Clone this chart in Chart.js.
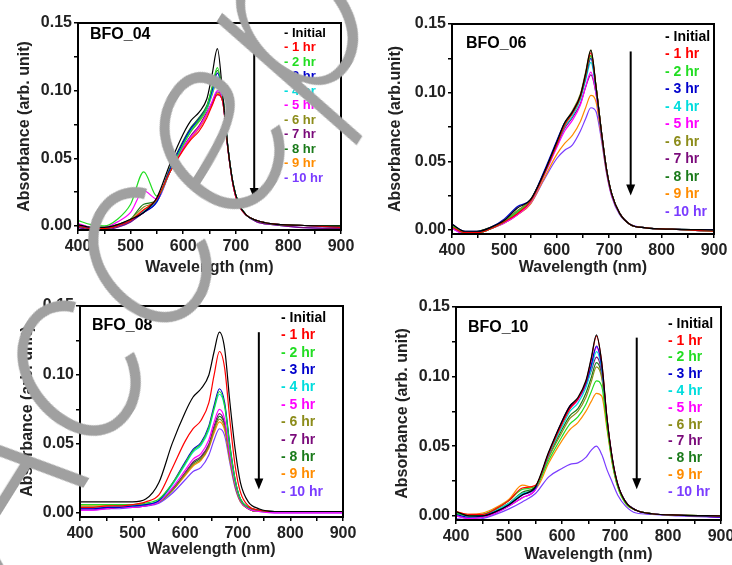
<!DOCTYPE html>
<html><head><meta charset="utf-8">
<script src="https://cdn.jsdelivr.net/npm/chart.js@4/dist/chart.umd.min.js"></script>
<style>
html,body{margin:0;padding:0;background:#fff;}
#wrap{position:relative;width:732px;height:565px;overflow:hidden;background:#fff;}
.pane{position:absolute;width:366px;height:282px;}
.pane canvas{display:block;}
#wm{position:absolute;left:-165px;top:487px;font-family:Inter,"Open Sans",sans-serif;font-weight:250;font-style:italic;font-size:245px;line-height:1;color:#a0a0a0;transform-origin:0 0;transform:rotate(-58deg);white-space:nowrap;pointer-events:none;}
</style></head><body>
<div id="wrap">
 <div class="pane" style="left:0;top:0"><canvas id="c1" width="366" height="282"></canvas></div>
 <div class="pane" style="left:366px;top:0"><canvas id="c2" width="366" height="282"></canvas></div>
 <div class="pane" style="left:0;top:282px"><canvas id="c3" width="366" height="282"></canvas></div>
 <div class="pane" style="left:366px;top:282px"><canvas id="c4" width="366" height="282"></canvas></div>
 <div id="wm">Accepted</div>
</div>
<script>
// ---- data ----
const wavelengths = [400, 425, 450, 475, 500, 525, 550, 575, 600, 615, 630, 645, 655, 665, 675, 685, 695, 705, 720, 740, 770, 820, 900];
const seriesLabels = ['- Initial', '- 1 hr', '- 2 hr', '- 3 hr', '- 4 hr', '- 5 hr', '- 6 hr', '- 7 hr', '- 8 hr', '- 9 hr', '- 10 hr'];
const seriesColors = ['#000000', '#ff0000', '#22dd22', '#0000cc', '#00dddd', '#ff00ff', '#8c8c1a', '#7a0a7a', '#1a7a1a', '#ff8c00', '#7a3cff'];
const xTickValues = [400, 450, 500, 550, 600, 650, 700, 750, 800, 850, 900];
const yTickValues = [0, 0.025, 0.05, 0.075, 0.1, 0.125, 0.15];

// BFO_04
const bfo04_initial = [0.001, -0.001, -0.001, 0.001, 0.005, 0.010, 0.021, 0.046, 0.068, 0.078, 0.084, 0.094, 0.112, 0.131, 0.098, 0.058, 0.031, 0.017, 0.008, 0.004, 0.0015, 0.0005, 0.000];
const bfo04_1hr = [0.000, -0.002, -0.002, 0.000, 0.004, 0.012, 0.020, 0.040, 0.056, 0.064, 0.070, 0.080, 0.089, 0.097, 0.092, 0.057, 0.030, 0.016, 0.008, 0.004, 0.0015, 0.0005, -0.001];
const bfo04_2hr = [0.004, 0.001, 0.000, 0.005, 0.016, 0.040, 0.022, 0.040, 0.060, 0.070, 0.078, 0.088, 0.103, 0.117, 0.097, 0.058, 0.031, 0.017, 0.008, 0.004, 0.0015, 0.0005, 0.000];
const bfo04_3hr = [0.000, -0.002, -0.002, 0.000, 0.004, 0.010, 0.018, 0.042, 0.062, 0.072, 0.079, 0.088, 0.100, 0.113, 0.096, 0.058, 0.031, 0.017, 0.008, 0.004, 0.0015, 0.0005, -0.001];
const bfo04_4hr = [0.000, -0.002, -0.002, 0.000, 0.004, 0.011, 0.018, 0.041, 0.061, 0.071, 0.078, 0.087, 0.098, 0.110, 0.095, 0.058, 0.031, 0.017, 0.008, 0.004, 0.0015, 0.0005, -0.001];
const bfo04_5hr = [0.002, -0.001, -0.001, 0.003, 0.010, 0.026, 0.020, 0.040, 0.058, 0.066, 0.073, 0.083, 0.092, 0.100, 0.093, 0.057, 0.030, 0.016, 0.008, 0.004, 0.0015, 0.0005, -0.001];
const bfo04_6hr = [0.000, -0.002, -0.002, 0.001, 0.005, 0.014, 0.019, 0.041, 0.060, 0.070, 0.077, 0.086, 0.097, 0.107, 0.095, 0.058, 0.031, 0.017, 0.008, 0.004, 0.0015, 0.0005, -0.001];
const bfo04_7hr = [-0.001, -0.003, -0.003, -0.001, 0.003, 0.010, 0.018, 0.040, 0.058, 0.067, 0.074, 0.084, 0.091, 0.099, 0.093, 0.057, 0.030, 0.016, 0.008, 0.003, 0.001, -0.001, -0.002];
const bfo04_8hr = [0.001, -0.001, -0.001, 0.001, 0.005, 0.016, 0.019, 0.043, 0.063, 0.073, 0.080, 0.089, 0.102, 0.115, 0.097, 0.058, 0.031, 0.017, 0.008, 0.004, 0.0015, 0.0005, 0.000];
const bfo04_9hr = [0.000, -0.002, -0.002, 0.000, 0.004, 0.012, 0.019, 0.040, 0.057, 0.065, 0.072, 0.082, 0.090, 0.098, 0.092, 0.057, 0.030, 0.016, 0.008, 0.004, 0.0015, 0.0005, -0.001];
const bfo04_10hr = [-0.001, -0.003, -0.003, -0.001, 0.003, 0.011, 0.018, 0.040, 0.057, 0.065, 0.072, 0.082, 0.090, 0.097, 0.092, 0.057, 0.030, 0.016, 0.008, 0.003, 0.001, -0.001, -0.002];

// BFO_06
const bfo06_initial = [0.004, -0.001, -0.001, 0.002, 0.007, 0.016, 0.022, 0.041, 0.064, 0.078, 0.086, 0.098, 0.114, 0.131, 0.104, 0.072, 0.044, 0.026, 0.012, 0.004, 0.0015, 0.0005, 0.000];
const bfo06_1hr = [0.002, -0.002, -0.002, 0.001, 0.006, 0.012, 0.021, 0.040, 0.062, 0.076, 0.085, 0.097, 0.113, 0.129, 0.104, 0.072, 0.044, 0.026, 0.012, 0.004, 0.0015, 0.0005, -0.001];
const bfo06_2hr = [0.003, -0.002, -0.002, 0.001, 0.006, 0.013, 0.021, 0.040, 0.063, 0.077, 0.085, 0.097, 0.112, 0.127, 0.104, 0.072, 0.044, 0.026, 0.012, 0.004, 0.0015, 0.0005, -0.001];
const bfo06_3hr = [0.004, -0.001, -0.001, 0.002, 0.008, 0.017, 0.022, 0.042, 0.065, 0.078, 0.086, 0.097, 0.111, 0.125, 0.103, 0.072, 0.044, 0.026, 0.012, 0.004, 0.0015, 0.0005, 0.000];
const bfo06_4hr = [0.002, -0.002, -0.002, 0.001, 0.006, 0.013, 0.021, 0.040, 0.062, 0.075, 0.083, 0.095, 0.109, 0.122, 0.102, 0.071, 0.044, 0.026, 0.012, 0.004, 0.0015, 0.0005, -0.001];
const bfo06_5hr = [0.001, -0.003, -0.002, 0.001, 0.005, 0.011, 0.020, 0.039, 0.060, 0.072, 0.080, 0.091, 0.104, 0.115, 0.099, 0.070, 0.043, 0.025, 0.012, 0.004, 0.0015, 0.0005, -0.001];
const bfo06_6hr = [0.003, -0.002, -0.001, 0.002, 0.007, 0.014, 0.022, 0.041, 0.064, 0.078, 0.087, 0.099, 0.115, 0.131, 0.104, 0.072, 0.044, 0.026, 0.012, 0.004, 0.0015, 0.0005, 0.000];
const bfo06_7hr = [0.002, -0.002, -0.002, 0.001, 0.006, 0.012, 0.021, 0.040, 0.061, 0.074, 0.082, 0.092, 0.104, 0.113, 0.099, 0.070, 0.043, 0.025, 0.012, 0.004, 0.0015, 0.0005, -0.001];
const bfo06_8hr = [0.003, -0.002, -0.001, 0.002, 0.007, 0.014, 0.022, 0.041, 0.063, 0.077, 0.086, 0.098, 0.113, 0.127, 0.104, 0.072, 0.044, 0.026, 0.012, 0.004, 0.0015, 0.0005, 0.000];
const bfo06_9hr = [0.002, -0.002, -0.002, 0.001, 0.005, 0.011, 0.019, 0.037, 0.055, 0.063, 0.069, 0.079, 0.089, 0.098, 0.093, 0.068, 0.042, 0.025, 0.012, 0.004, 0.0015, 0.0005, -0.001];
const bfo06_10hr = [0.001, -0.003, -0.002, 0.001, 0.005, 0.011, 0.019, 0.036, 0.052, 0.058, 0.062, 0.072, 0.081, 0.089, 0.086, 0.066, 0.041, 0.024, 0.011, 0.004, 0.0015, 0.0005, -0.001];

// BFO_08
const bfo08_initial = [0.008, 0.008, 0.008, 0.008, 0.008, 0.010, 0.022, 0.050, 0.073, 0.084, 0.090, 0.100, 0.117, 0.131, 0.119, 0.080, 0.046, 0.022, 0.008, 0.003, 0.001, 0.001, 0.001];
const bfo08_1hr = [0.004, 0.004, 0.005, 0.005, 0.006, 0.008, 0.013, 0.032, 0.052, 0.061, 0.067, 0.080, 0.100, 0.117, 0.105, 0.067, 0.034, 0.015, 0.005, 0.002, 0.001, 0.001, 0.001];
const bfo08_2hr = [0.006, 0.006, 0.006, 0.006, 0.006, 0.007, 0.010, 0.021, 0.036, 0.045, 0.050, 0.062, 0.076, 0.088, 0.078, 0.048, 0.024, 0.010, 0.004, 0.002, 0.001, 0.001, 0.001];
const bfo08_3hr = [0.003, 0.003, 0.004, 0.004, 0.005, 0.006, 0.009, 0.021, 0.037, 0.046, 0.051, 0.063, 0.078, 0.090, 0.080, 0.049, 0.024, 0.010, 0.004, 0.002, 0.001, 0.001, 0.001];
const bfo08_4hr = [0.004, 0.004, 0.004, 0.005, 0.005, 0.006, 0.009, 0.020, 0.035, 0.044, 0.049, 0.060, 0.075, 0.086, 0.077, 0.047, 0.023, 0.010, 0.004, 0.002, 0.001, 0.001, 0.001];
const bfo08_5hr = [0.002, 0.002, 0.003, 0.004, 0.004, 0.005, 0.008, 0.018, 0.031, 0.039, 0.043, 0.053, 0.066, 0.075, 0.068, 0.042, 0.021, 0.009, 0.003, 0.001, 0.000, 0.000, 0.000];
const bfo08_6hr = [0.004, 0.004, 0.004, 0.005, 0.005, 0.006, 0.008, 0.016, 0.028, 0.035, 0.039, 0.048, 0.060, 0.068, 0.062, 0.039, 0.020, 0.009, 0.003, 0.001, 0.001, 0.001, 0.001];
const bfo08_7hr = [0.003, 0.003, 0.003, 0.004, 0.004, 0.005, 0.008, 0.017, 0.029, 0.037, 0.041, 0.050, 0.063, 0.072, 0.065, 0.041, 0.021, 0.009, 0.003, 0.001, 0.001, 0.001, 0.001];
const bfo08_8hr = [0.004, 0.004, 0.004, 0.005, 0.005, 0.006, 0.008, 0.016, 0.029, 0.036, 0.040, 0.049, 0.061, 0.070, 0.064, 0.040, 0.020, 0.009, 0.003, 0.001, 0.001, 0.001, 0.001];
const bfo08_9hr = [0.005, 0.005, 0.005, 0.005, 0.006, 0.006, 0.008, 0.016, 0.027, 0.034, 0.038, 0.047, 0.058, 0.066, 0.060, 0.038, 0.019, 0.008, 0.003, 0.001, 0.001, 0.001, 0.001];
const bfo08_10hr = [0.002, 0.002, 0.003, 0.003, 0.004, 0.005, 0.007, 0.014, 0.024, 0.030, 0.033, 0.042, 0.053, 0.061, 0.056, 0.036, 0.018, 0.008, 0.003, 0.001, 0.000, 0.000, 0.000];

// BFO_10
const bfo10_initial = [0.003, 0.000, 0.000, 0.003, 0.008, 0.015, 0.021, 0.046, 0.068, 0.079, 0.085, 0.097, 0.113, 0.130, 0.110, 0.070, 0.041, 0.023, 0.010, 0.004, 0.0015, 0.0005, 0.000];
const bfo10_1hr = [0.003, 0.001, 0.001, 0.005, 0.011, 0.020, 0.022, 0.045, 0.066, 0.077, 0.084, 0.096, 0.112, 0.129, 0.110, 0.070, 0.041, 0.023, 0.010, 0.004, 0.0015, 0.0005, 0.000];
const bfo10_2hr = [0.002, 0.000, 0.001, 0.005, 0.011, 0.019, 0.021, 0.040, 0.057, 0.066, 0.071, 0.080, 0.089, 0.097, 0.093, 0.064, 0.038, 0.021, 0.009, 0.004, 0.0015, 0.0005, 0.000];
const bfo10_3hr = [0.001, -0.001, 0.000, 0.003, 0.008, 0.015, 0.020, 0.045, 0.067, 0.078, 0.084, 0.095, 0.108, 0.122, 0.107, 0.069, 0.041, 0.023, 0.010, 0.004, 0.0015, 0.0005, -0.001];
const bfo10_4hr = [0.002, 0.000, 0.000, 0.004, 0.009, 0.016, 0.020, 0.044, 0.064, 0.075, 0.081, 0.092, 0.105, 0.118, 0.105, 0.068, 0.040, 0.022, 0.010, 0.004, 0.0015, 0.0005, 0.000];
const bfo10_5hr = [0.000, -0.002, -0.001, 0.002, 0.007, 0.013, 0.019, 0.044, 0.066, 0.077, 0.083, 0.094, 0.107, 0.121, 0.106, 0.069, 0.040, 0.022, 0.010, 0.004, 0.0015, 0.0005, -0.001];
const bfo10_6hr = [0.002, 0.000, 0.000, 0.004, 0.009, 0.016, 0.020, 0.042, 0.060, 0.070, 0.075, 0.085, 0.096, 0.107, 0.099, 0.066, 0.039, 0.022, 0.010, 0.004, 0.0015, 0.0005, 0.000];
const bfo10_7hr = [0.000, -0.002, -0.001, 0.002, 0.007, 0.013, 0.019, 0.045, 0.068, 0.079, 0.084, 0.094, 0.104, 0.114, 0.103, 0.068, 0.040, 0.022, 0.010, 0.004, 0.0015, 0.0005, -0.001];
const bfo10_8hr = [0.002, 0.000, 0.000, 0.004, 0.009, 0.017, 0.021, 0.043, 0.062, 0.072, 0.077, 0.088, 0.099, 0.110, 0.101, 0.067, 0.039, 0.022, 0.010, 0.004, 0.0015, 0.0005, 0.000];
const bfo10_9hr = [0.003, 0.001, 0.002, 0.006, 0.012, 0.022, 0.020, 0.038, 0.054, 0.062, 0.067, 0.075, 0.082, 0.088, 0.086, 0.062, 0.037, 0.021, 0.009, 0.004, 0.0015, 0.0005, 0.000];
const bfo10_10hr = [-0.002, -0.003, -0.002, 0.001, 0.005, 0.010, 0.016, 0.028, 0.034, 0.037, 0.038, 0.042, 0.047, 0.050, 0.044, 0.033, 0.024, 0.015, 0.007, 0.002, 0.001, 0.000, -0.001];

const bfo04 = [bfo04_initial, bfo04_1hr, bfo04_2hr, bfo04_3hr, bfo04_4hr, bfo04_5hr, bfo04_6hr, bfo04_7hr, bfo04_8hr, bfo04_9hr, bfo04_10hr];
const bfo06 = [bfo06_initial, bfo06_1hr, bfo06_2hr, bfo06_3hr, bfo06_4hr, bfo06_5hr, bfo06_6hr, bfo06_7hr, bfo06_8hr, bfo06_9hr, bfo06_10hr];
const bfo08 = [bfo08_initial, bfo08_1hr, bfo08_2hr, bfo08_3hr, bfo08_4hr, bfo08_5hr, bfo08_6hr, bfo08_7hr, bfo08_8hr, bfo08_9hr, bfo08_10hr];
const bfo10 = [bfo10_initial, bfo10_1hr, bfo10_2hr, bfo10_3hr, bfo10_4hr, bfo10_5hr, bfo10_6hr, bfo10_7hr, bfo10_8hr, bfo10_9hr, bfo10_10hr];

// ---- layout / style ----
const FONT = '"Liberation Sans", Arial, sans-serif';
const panels = [
  {id:'c1', name:'BFO_04', data:bfo04, yTitle:'Absorbance (arb. unit)', area:{l:78, r:341, t:23, b:230}, yTitlePad:15, xTitlePad:5,
   nameDx:12, nameDy:12, legX:284, legY:33, legStep:14.5, legFont:13, arrow:{x:735, top:0.130, tip:0.020}},
  {id:'c2', name:'BFO_06', data:bfo06, yTitle:'Absorbance (arb.unit)', area:{l:86, r:348, t:24, b:234}, yTitlePad:20, xTitlePad:5,
   nameDx:14, nameDy:20, legX:299, legY:37, legStep:17.5, legFont:14, arrow:{x:741, top:0.130, tip:0.025}},
  {id:'c3', name:'BFO_08', data:bfo08, yTitle:'Absorbance (arb. unit)', area:{l:80, r:343, t:24, b:235}, yTitlePad:18, xTitlePad:5,
   nameDx:12, nameDy:20, legX:281, legY:36, legStep:17.4, legFont:14, arrow:{x:740, top:0.131, tip:0.017}},
  {id:'c4', name:'BFO_10', data:bfo10, yTitle:'Absorbance (arb. unit)', area:{l:90, r:355, t:25, b:238}, yTitlePad:27, xTitlePad:0,
   nameDx:12, nameDy:21, legX:302, legY:42, legStep:16.8, legFont:14, arrow:{x:741, top:0.128, tip:0.019}}
];

const decor = {
  id: 'decor',
  afterDatasetsDraw(chart, args, o) {
    const {ctx, chartArea: a, scales: {x, y}} = chart;
    ctx.save();
    ctx.strokeStyle = '#000'; ctx.fillStyle = '#000';
    ctx.lineWidth = 2;
    ctx.strokeRect(a.left, a.top, a.right - a.left, a.bottom - a.top);
    const ax = x.getPixelForValue(o.arrow.x);
    const ay1 = y.getPixelForValue(o.arrow.top);
    const ay2 = y.getPixelForValue(o.arrow.tip);
    ctx.beginPath(); ctx.moveTo(ax, ay1); ctx.lineTo(ax, ay2 - 8); ctx.stroke();
    ctx.beginPath(); ctx.moveTo(ax - 4.5, ay2 - 11); ctx.lineTo(ax + 4.5, ay2 - 11); ctx.lineTo(ax, ay2); ctx.closePath(); ctx.fill();
    ctx.textAlign = 'left'; ctx.textBaseline = 'middle';
    ctx.font = 'bold 16px ' + FONT;
    ctx.fillText(o.name, a.left + o.nameDx, a.top + o.nameDy);
    ctx.font = 'bold ' + o.legFont + 'px ' + FONT;
    chart.data.datasets.forEach((ds, i) => {
      ctx.fillStyle = ds.borderColor;
      ctx.fillText(ds.label, o.legX, o.legY + i * o.legStep);
    });
    ctx.restore();
  }
};

function isMultiple(v, step) { return Math.abs(v / step - Math.round(v / step)) < 1e-6; }

panels.forEach(p => {
  const datasets = p.data.map((arr, i) => ({
    label: seriesLabels[i],
    data: arr.map((v, j) => ({x: wavelengths[j], y: v})),
    borderColor: seriesColors[i],
    backgroundColor: seriesColors[i],
    borderWidth: 1.2,
    pointRadius: 0,
    cubicInterpolationMode: 'monotone',
    fill: false
  }));
  const tickFont = {family: FONT, size: 16, weight: 'bold'};
  new Chart(document.getElementById(p.id), {
    type: 'line',
    data: {datasets},
    plugins: [decor],
    options: {
      responsive: false, animation: false, devicePixelRatio: 1,
      layout: {padding: {left: 0, top: p.area.t, right: 366 - p.area.r, bottom: 0}},
      plugins: {legend: {display: false}, tooltip: {enabled: false},
        decor: {name: p.name, nameDx: p.nameDx, nameDy: p.nameDy, legX: p.legX, legY: p.legY, legStep: p.legStep, legFont: p.legFont, arrow: p.arrow}},
      scales: {
        x: {type: 'linear', min: 400, max: 900,
          afterBuildTicks: s => { s.ticks = xTickValues.map(v => ({value: v})); },
          afterFit: s => { s.height = 282 - p.area.b; s.paddingLeft = 0; s.paddingRight = 0; },
          ticks: {callback: v => isMultiple(v, 100) ? String(v) : '', font: tickFont, color: '#222', padding: 3, maxRotation: 0, autoSkip: false},
          grid: {drawOnChartArea: false, drawTicks: true, tickLength: 4, color: '#000', lineWidth: 1.5},
          border: {display: true, color: '#000', width: 2},
          title: {display: true, text: 'Wavelength (nm)', font: tickFont, color: '#222', padding: {top: 0, bottom: p.xTitlePad}}
        },
        y: {type: 'linear', min: -0.003, max: 0.15,
          afterBuildTicks: s => { s.ticks = yTickValues.map(v => ({value: v})); },
          afterFit: s => { s.width = p.area.l; s.paddingTop = 0; s.paddingBottom = 0; },
          ticks: {callback: v => isMultiple(v, 0.05) ? v.toFixed(2) : '', font: tickFont, color: '#222', padding: 2, autoSkip: false},
          grid: {drawOnChartArea: false, drawTicks: true, tickLength: 4, color: '#000', lineWidth: 1.5},
          border: {display: true, color: '#000', width: 2},
          title: {display: true, text: p.yTitle, font: tickFont, color: '#222', padding: {top: p.yTitlePad, bottom: 0}}
        }
      }
    }
  });
});
</script>
</body></html>
